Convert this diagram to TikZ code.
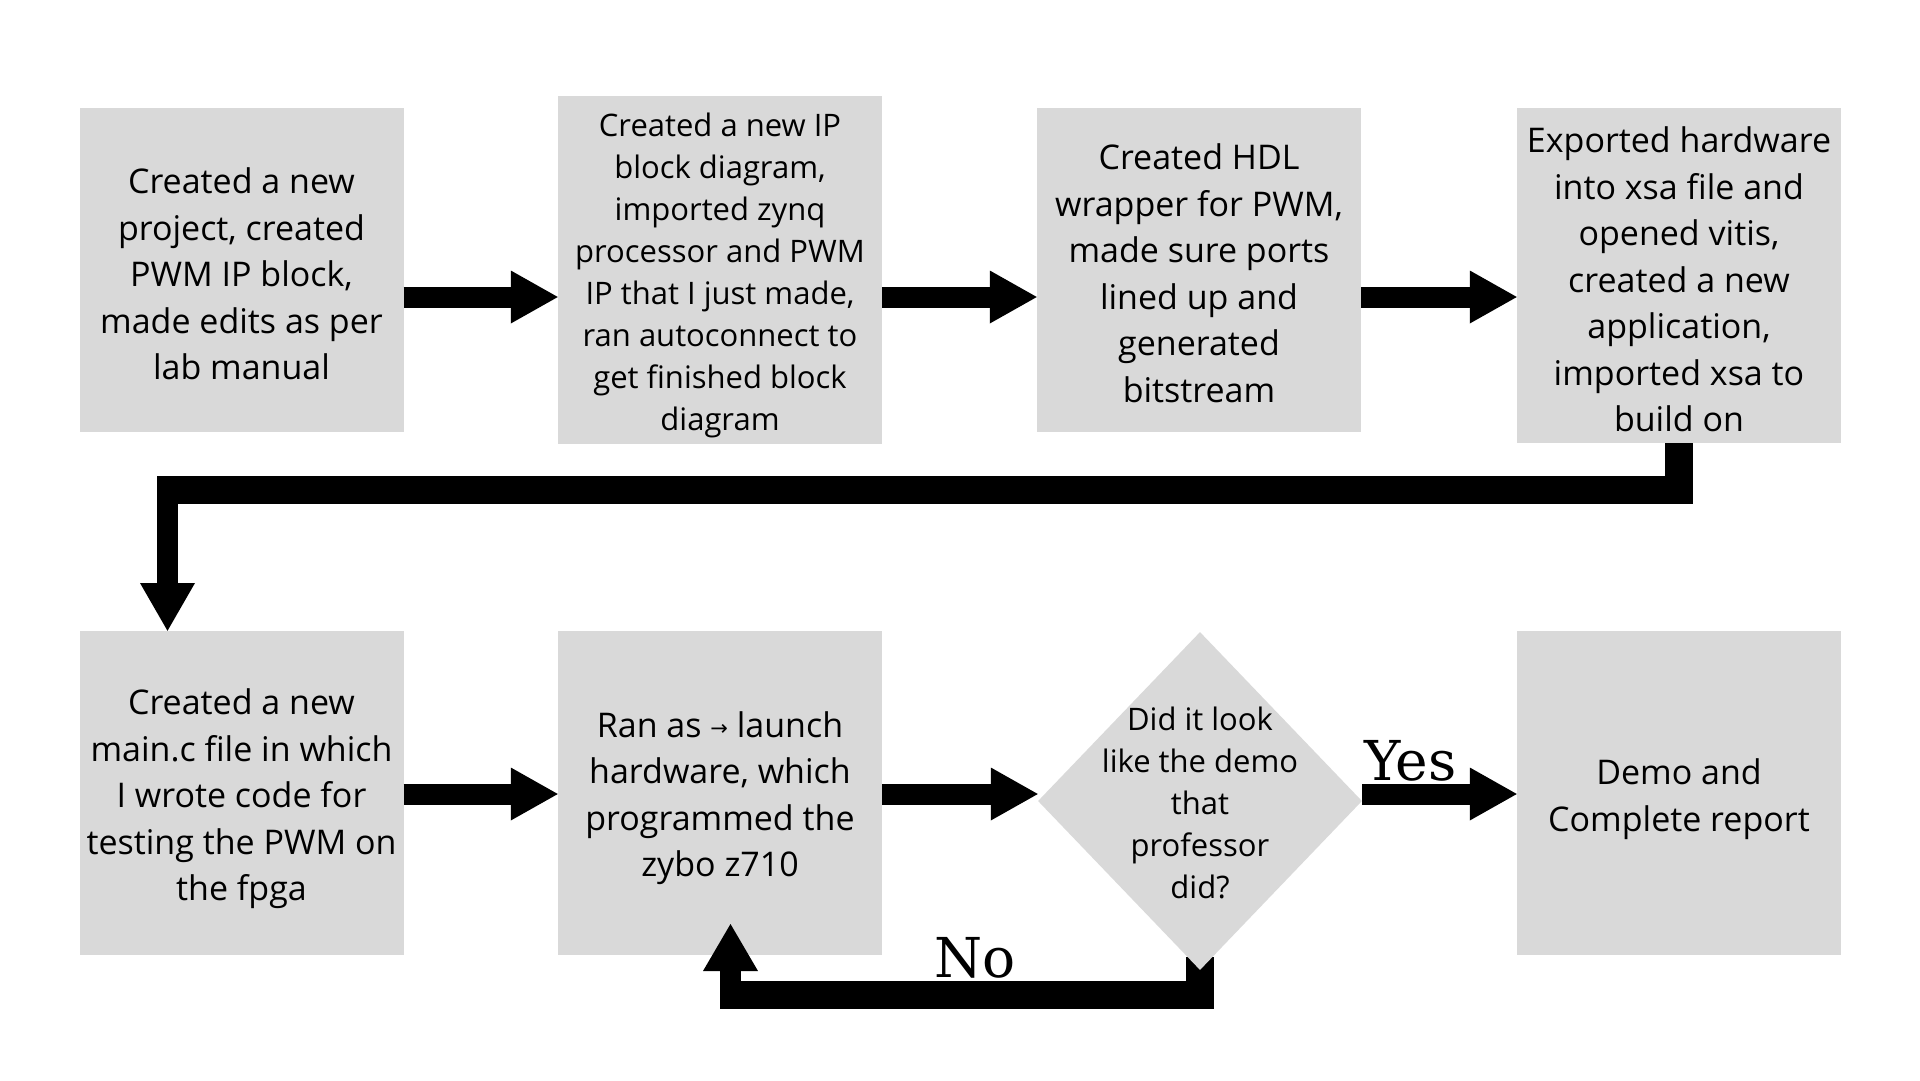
\documentclass[tikz,border=0pt]{standalone}
\usepackage{fontspec}
\setmainfont{Open Sans}
\newfontfamily\slabfont{DejaVu Serif}
\newfontfamily\arrowfont{DejaVu Sans}
\usetikzlibrary{shapes.geometric,calc,backgrounds}
\definecolor{boxgray}{HTML}{D9D9D9}
\tikzset{
  stepbox/.style={fill=boxgray, inner sep=0pt, minimum width=324pt, minimum height=324pt},
  steptext/.style={inner sep=0pt, align=center, font=\fontsize{34}{46.5}\selectfont},
  smalltext/.style={inner sep=0pt, align=center, font=\fontsize{31}{42}\selectfont},
  decision/.style={diamond, fill=boxgray, inner sep=0pt, minimum width=324pt, minimum height=338pt},
  shaft/.style={line width=21pt},
  bar/.style={line width=28pt, line join=miter},
  answer/.style={font=\slabfont\fontsize{55}{55}\selectfont, inner sep=0pt, anchor=base west},
}
\newcommand\harrow[3]{%
  \coordinate (hs) at (#1.east |- 0,#3);
  \coordinate (he) at (#2.west |- 0,#3);
  \draw[shaft] (hs) -- ($(he)+(-46,0)$);
  \fill ($(he)+(-47,-26.5)$) -- (he) -- ($(he)+(-47,26.5)$) -- cycle;}
\begin{document}
\begin{tikzpicture}[x=1pt,y=-1pt]
\useasboundingbox (0,0) rectangle (1920,1080);
\begin{scope}[on background layer]
  \fill[white] (0,0) rectangle (1920,1080);
\end{scope}

% boxes
\node[stepbox] (b1) at (241.5,270) {};
\node[stepbox, minimum height=348pt] (b2) at (720,270) {};
\node[stepbox] (b3) at (1199,270) {};
\node[stepbox, minimum height=335pt] (b4) at (1679,275.5) {};
\node[stepbox] (b5) at (241.5,793) {};
\node[stepbox] (b6) at (720,793) {};
\node[decision] (d) at (1200,801) {};
\node[stepbox] (b8) at (1679,793) {};

% texts
\node[steptext] (t1) at ($(b1.center)+(0,4)$) {Created a new\\project, created\\PWM IP block,\\made edits as per\\lab manual};
\node[smalltext] (t2) at ($(b2.center)+(0,5)$) {Created a new IP\\block diagram,\\imported zynq\\processor and PWM\\IP that I just made,\\ran autoconnect to\\get finished block\\diagram};
\node[steptext] (t3) at ($(b3.center)+(0,3)$) {Created HDL\\wrapper for PWM,\\made sure ports\\lined up and\\generated\\bitstream};
\node[steptext] (t4) at ($(b4.center)+(0,4)$) {Exported hardware\\into xsa file and\\opened vitis,\\created a new\\application,\\imported xsa to\\build on};
\node[steptext] (t5) at ($(b5.center)+(0,6)$) {Created a new\\main.c file in which\\I wrote code for\\testing the PWM on\\the fpga};
\node[steptext] (t6) at ($(b6.center)+(0,5)$) {Ran as {\arrowfont\fontsize{21}{21}\selectfont\raisebox{2pt}{→}} launch\\hardware, which\\programmed the\\zybo z710};
\node[smalltext] (dt) at ($(d.center)+(0,1.5)$) {Did it look\\like the demo\\that\\professor\\did?};
\node[steptext] (t8) at ($(b8.center)+(0,6)$) {Demo and\\Complete report};

% row 1 arrows
\harrow{b1}{b2}{297}
\harrow{b2}{b3}{297}
\harrow{b3}{b4}{297}
% row 2 arrows
\harrow{b5}{b6}{794}
\harrow{b6}{d}{794}
\harrow{d}{b8}{794}

% connector from b4 down to b5
\coordinate (k1) at (157,490);
\draw[bar] (b4.south) |- (k1);
\coordinate (k2) at (167.5,476);
\coordinate (k3) at (167.5,584);
\draw[shaft] (k2) -- (k3);
\coordinate (k4) at (b5.north -| 167.5,0);
\fill (140,583) -- (195,583) -- (k4) -- cycle;

% No loop
\coordinate (n1) at (720,995);
\begin{scope}[on background layer]
  \draw[bar] ($(d.south)+(0,-13)$) |- (n1);
\end{scope}
\coordinate (n2) at (730.5,986);
\coordinate (n3) at (730.5,970);
\draw[shaft] (n2) -- (n3);
\coordinate (n4) at (730.5,924);
\fill (703,971) -- (758,971) -- (n4) -- cycle;

% labels
\node[answer] (yes) at (1364,780) {Yes};
\node[answer] (no) at (934,977) {No};
\end{tikzpicture}
\end{document}
